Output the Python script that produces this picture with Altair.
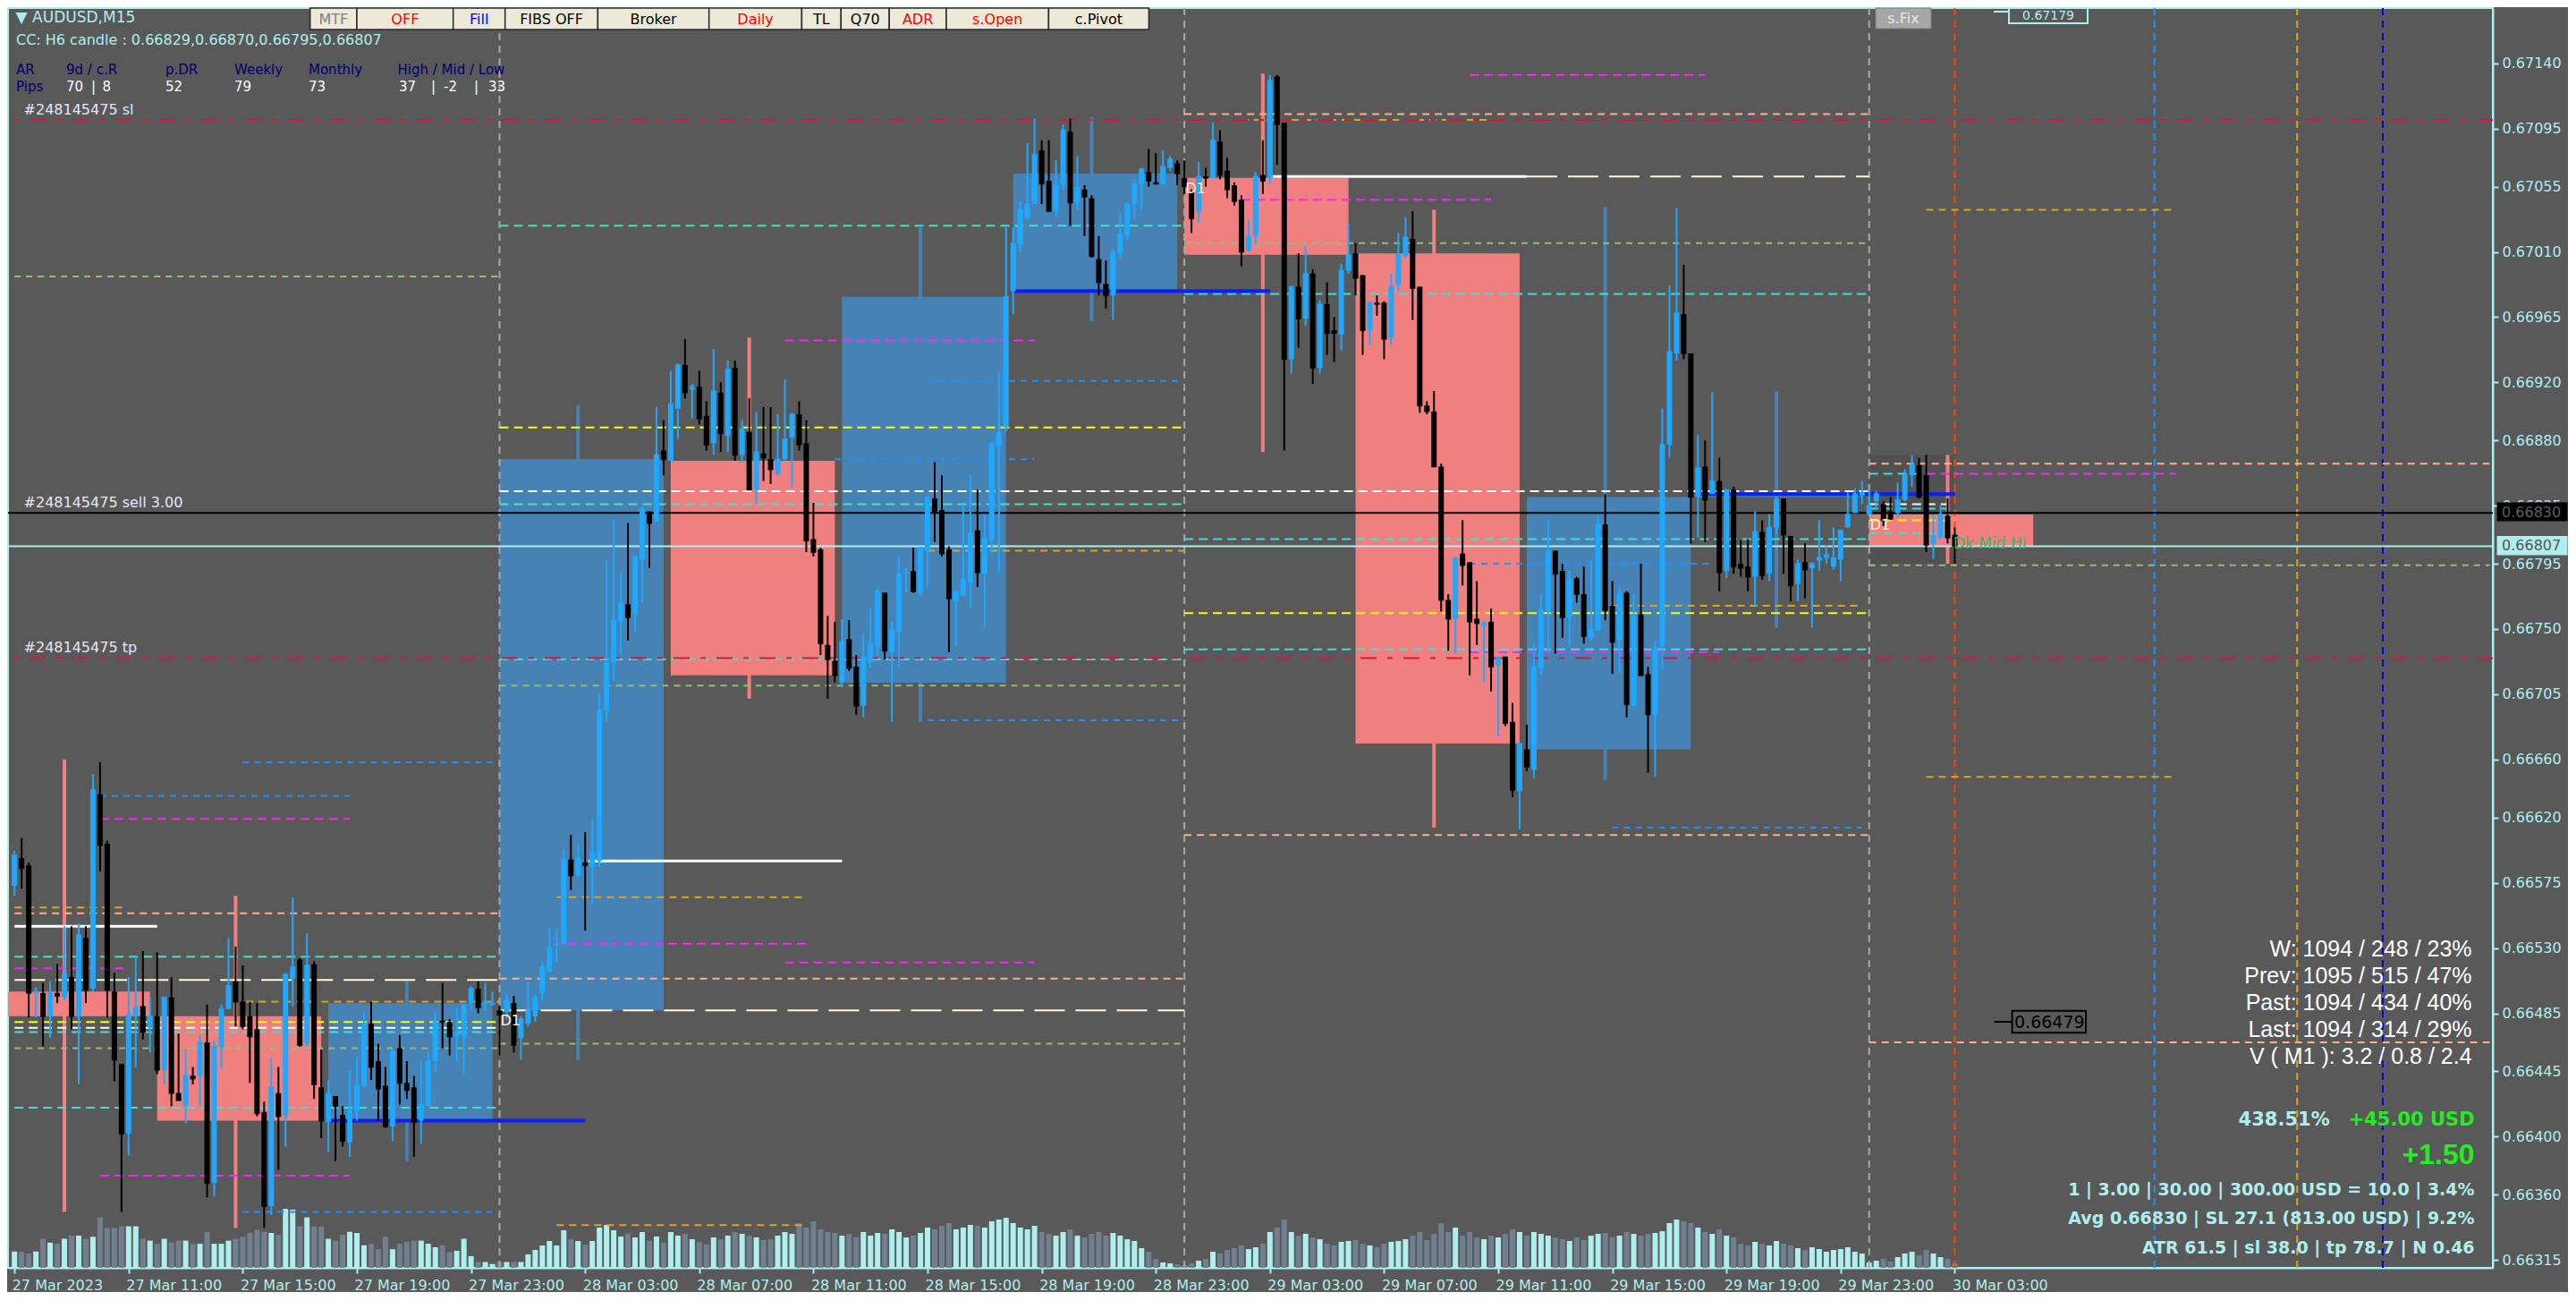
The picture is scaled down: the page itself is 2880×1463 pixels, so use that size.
import altair as alt
import pandas as pd
import numpy as np

# ---------------- data ----------------
time_labels = ["27 Mar 2023", "27 Mar 11:00", "27 Mar 15:00", "27 Mar 19:00", "27 Mar 23:00",
               "28 Mar 03:00", "28 Mar 07:00", "28 Mar 11:00", "28 Mar 15:00", "28 Mar 19:00",
               "28 Mar 23:00", "29 Mar 03:00", "29 Mar 07:00", "29 Mar 11:00", "29 Mar 15:00",
               "29 Mar 19:00", "29 Mar 23:00", "30 Mar 03:00"]
label_bars = [0, 16, 32, 48, 64, 80, 96, 112, 128, 144, 160, 176, 192, 208, 224, 240, 256, 272]

price_ticks = [0.67140, 0.67095, 0.67055, 0.67010, 0.66965, 0.66920, 0.66880, 0.66835, 0.66795,
               0.66750, 0.66705, 0.66660, 0.66620, 0.66575, 0.66530, 0.66485, 0.66445, 0.66400,
               0.66360, 0.66315]

bar_open = [
0.66573,0.66592,0.66587,0.66499,0.66499,0.66483,0.66499,0.66496,0.66510,0.66483,
0.66537,0.66502,0.66636,0.66602,0.66500,0.66450,0.66402,0.66483,0.66490,0.66475,
0.66483,0.66446,0.66496,0.66430,0.66421,0.66442,0.66442,0.66465,0.66368,0.66462,
0.66488,0.66507,0.66493,0.66483,0.66474,0.66417,0.66352,0.66430,0.66414,0.66509,
0.66522,0.66464,0.66519,0.66434,0.66410,0.66428,0.66415,0.66396,0.66418,0.66435,
0.66478,0.66452,0.66435,0.66407,0.66461,0.66437,0.66434,0.66411,0.66421,0.66452,
0.66480,0.66479,0.66469,0.66469,0.66492,0.66502,0.66491,0.66491,0.66487,0.66486,
0.66492,0.66468,0.66478,0.66483,0.66499,0.66514,0.66532,0.66533,0.66591,0.66580,
0.66589,0.66586,0.66590,0.66694,0.66727,0.66755,0.66767,0.66760,0.66798,0.66831,
0.66824,0.66873,0.66866,0.66902,0.66932,0.66915,0.66917,0.66897,0.66878,0.66913,
0.66883,0.66930,0.66870,0.66886,0.66846,0.66871,0.66867,0.66857,0.66867,0.66882,
0.66898,0.66878,0.66812,0.66805,0.66739,0.66728,0.66713,0.66743,0.66724,0.66697,
0.66727,0.66738,0.66775,0.66734,0.66748,0.66788,0.66790,0.66775,0.66804,0.66840,
0.66832,0.66805,0.66769,0.66773,0.66782,0.66818,0.66788,0.66811,0.66876,0.66889,
0.66983,0.67015,0.67033,0.67043,0.67080,0.67059,0.67038,0.67056,0.67093,0.67044,
0.67053,0.67047,0.67005,0.66988,0.66980,0.67009,0.67021,0.67043,0.67057,0.67065,
0.67058,0.67057,0.67068,0.67071,0.67061,0.67051,0.67038,0.67062,0.67061,0.67086,
0.67066,0.67056,0.67046,0.67011,0.67021,0.67063,0.67061,0.67131,0.67099,0.66936,
0.66986,0.66964,0.66995,0.66930,0.66974,0.66956,0.66953,0.66997,0.67009,0.66994,
0.66956,0.66975,0.66975,0.66951,0.66987,0.67007,0.67019,0.66986,0.66904,0.66900,
0.66862,0.66770,0.66757,0.66802,0.66796,0.66757,0.66752,0.66755,0.66725,0.66731,
0.66686,0.66638,0.66667,0.66653,0.66723,0.66762,0.66804,0.66790,0.66758,0.66785,
0.66774,0.66744,0.66749,0.66822,0.66766,0.66742,0.66775,0.66697,0.66760,0.66719,
0.66691,0.66738,0.66877,0.66940,0.66967,0.66940,0.66841,0.66862,0.66843,0.66852,
0.66790,0.66846,0.66795,0.66793,0.66786,0.66817,0.66788,0.66820,0.66840,0.66814,
0.66781,0.66796,0.66792,0.66797,0.66799,0.66793,0.66798,0.66820,0.66830,0.66842,
0.66829,0.66838,0.66836,0.66831,0.66830,0.66839,0.66856,0.66863,0.66856,0.66809,
0.66813,0.66828,0.66815]

bar_high = [
0.66597,0.66606,0.66589,0.66503,0.66506,0.66507,0.66519,0.66545,0.66545,0.66547,
0.66545,0.66650,0.66658,0.66604,0.66513,0.66450,0.66510,0.66525,0.66528,0.66496,
0.66527,0.66496,0.66510,0.66471,0.66460,0.66448,0.66470,0.66491,0.66466,0.66491,
0.66537,0.66531,0.66518,0.66493,0.66492,0.66424,0.66454,0.66448,0.66512,0.66565,
0.66523,0.66540,0.66521,0.66460,0.66439,0.66428,0.66421,0.66446,0.66455,0.66486,
0.66493,0.66464,0.66448,0.66459,0.66470,0.66452,0.66442,0.66452,0.66458,0.66486,
0.66506,0.66481,0.66489,0.66491,0.66504,0.66507,0.66506,0.66500,0.66490,0.66498,
0.66497,0.66483,0.66507,0.66498,0.66520,0.66544,0.66543,0.66598,0.66608,0.66602,
0.66610,0.66619,0.66705,0.66797,0.66826,0.66789,0.66823,0.66800,0.66834,0.66831,
0.66903,0.66894,0.66928,0.66933,0.66950,0.66919,0.66928,0.66907,0.66943,0.66920,
0.66935,0.66935,0.66894,0.66909,0.66900,0.66903,0.66903,0.66898,0.66922,0.66899,
0.66907,0.66894,0.66837,0.66806,0.66759,0.66755,0.66757,0.66756,0.66732,0.66747,
0.66764,0.66778,0.66775,0.66755,0.66800,0.66792,0.66806,0.66806,0.66841,0.66865,
0.66856,0.66807,0.66776,0.66836,0.66856,0.66846,0.66829,0.66879,0.66927,0.67027,
0.67027,0.67045,0.67085,0.67102,0.67087,0.67087,0.67073,0.67098,0.67102,0.67076,
0.67056,0.67049,0.67021,0.67004,0.67012,0.67037,0.67044,0.67060,0.67068,0.67081,
0.67078,0.67080,0.67076,0.67073,0.67073,0.67053,0.67072,0.67068,0.67099,0.67094,
0.67075,0.67058,0.67049,0.67032,0.67065,0.67087,0.67132,0.67132,0.67099,0.66986,
0.67009,0.67014,0.66998,0.66977,0.66989,0.66965,0.67002,0.67030,0.67016,0.66994,
0.66976,0.66980,0.66976,0.66995,0.67023,0.67034,0.67038,0.66986,0.66907,0.66914,
0.66864,0.66774,0.66799,0.66825,0.66796,0.66783,0.66756,0.66764,0.66731,0.66731,
0.66699,0.66671,0.66684,0.66740,0.66774,0.66825,0.66804,0.66795,0.66790,0.66786,
0.66793,0.66797,0.66828,0.66843,0.66783,0.66779,0.66776,0.66774,0.66795,0.66724,
0.66742,0.66902,0.66987,0.67040,0.67001,0.66940,0.66884,0.66880,0.66913,0.66868,
0.66846,0.66848,0.66811,0.66812,0.66831,0.66825,0.66829,0.66841,0.66840,0.66814,
0.66798,0.66809,0.66796,0.66825,0.66808,0.66820,0.66818,0.66844,0.66847,0.66852,
0.66846,0.66845,0.66838,0.66841,0.66851,0.66860,0.66870,0.66868,0.66870,0.66829,
0.66835,0.66840,0.66820]

bar_low = [
0.66566,0.66571,0.66482,0.66482,0.66462,0.66468,0.66492,0.66494,0.66474,0.66436,
0.66492,0.66500,0.66583,0.66482,0.66438,0.66348,0.66387,0.66448,0.66467,0.66458,
0.66443,0.66436,0.66421,0.66425,0.66409,0.66436,0.66421,0.66358,0.66359,0.66447,
0.66488,0.66476,0.66474,0.66437,0.66414,0.66337,0.66346,0.66377,0.66393,0.66490,
0.66462,0.66462,0.66426,0.66399,0.66389,0.66383,0.66393,0.66386,0.66411,0.66434,
0.66439,0.66411,0.66406,0.66397,0.66422,0.66426,0.66386,0.66395,0.66421,0.66444,
0.66461,0.66456,0.66452,0.66443,0.66487,0.66485,0.66487,0.66490,0.66456,0.66481,
0.66458,0.66453,0.66476,0.66479,0.66494,0.66513,0.66520,0.66532,0.66570,0.66579,
0.66542,0.66561,0.66586,0.66686,0.66714,0.66732,0.66742,0.66748,0.66768,0.66792,
0.66824,0.66856,0.66866,0.66881,0.66909,0.66895,0.66891,0.66873,0.66870,0.66872,
0.66872,0.66866,0.66865,0.66846,0.66836,0.66852,0.66850,0.66856,0.66866,0.66848,
0.66873,0.66803,0.66800,0.66732,0.66702,0.66713,0.66710,0.66721,0.66691,0.66689,
0.66723,0.66732,0.66729,0.66686,0.66723,0.66775,0.66775,0.66773,0.66779,0.66810,
0.66800,0.66734,0.66738,0.66773,0.66764,0.66779,0.66751,0.66802,0.66789,0.66886,
0.66967,0.67010,0.67033,0.67043,0.67043,0.67038,0.67034,0.67053,0.67028,0.67039,
0.67021,0.67006,0.66980,0.66971,0.66963,0.67005,0.67018,0.67032,0.67039,0.67055,
0.67057,0.67056,0.67066,0.67056,0.67050,0.67023,0.67030,0.67055,0.67061,0.67060,
0.67047,0.67042,0.67000,0.67010,0.67015,0.67050,0.67057,0.67070,0.66873,0.66926,
0.66944,0.66959,0.66919,0.66926,0.66939,0.66934,0.66942,0.66995,0.66980,0.66939,
0.66946,0.66966,0.66936,0.66946,0.66983,0.67006,0.66963,0.66899,0.66898,0.66862,
0.66762,0.66735,0.66733,0.66780,0.66718,0.66739,0.66713,0.66707,0.66676,0.66683,
0.66634,0.66612,0.66652,0.66647,0.66718,0.66734,0.66733,0.66744,0.66738,0.66768,
0.66740,0.66742,0.66749,0.66756,0.66719,0.66720,0.66689,0.66697,0.66718,0.66651,
0.66648,0.66722,0.66868,0.66935,0.66936,0.66809,0.66813,0.66810,0.66843,0.66776,
0.66785,0.66788,0.66786,0.66776,0.66766,0.66784,0.66783,0.66815,0.66788,0.66769,
0.66769,0.66771,0.66751,0.66790,0.66795,0.66791,0.66783,0.66820,0.66830,0.66836,
0.66829,0.66832,0.66821,0.66825,0.66827,0.66838,0.66848,0.66840,0.66803,0.66798,
0.66812,0.66809,0.66795]

bar_close = [
0.66594,0.66585,0.66499,0.66500,0.66483,0.66499,0.66497,0.66512,0.66483,0.66539,
0.66501,0.66639,0.66601,0.66501,0.66453,0.66402,0.66484,0.66489,0.66472,0.66483,
0.66446,0.66496,0.66430,0.66425,0.66442,0.66440,0.66465,0.66368,0.66462,0.66488,
0.66504,0.66493,0.66476,0.66469,0.66416,0.66352,0.66434,0.66414,0.66512,0.66517,
0.66463,0.66518,0.66436,0.66411,0.66430,0.66421,0.66397,0.66418,0.66435,0.66478,
0.66448,0.66433,0.66407,0.66459,0.66437,0.66432,0.66410,0.66422,0.66452,0.66479,
0.66479,0.66469,0.66471,0.66491,0.66502,0.66489,0.66493,0.66492,0.66484,0.66494,
0.66463,0.66481,0.66487,0.66496,0.66517,0.66530,0.66533,0.66591,0.66580,0.66592,
0.66587,0.66596,0.66694,0.66727,0.66756,0.66768,0.66758,0.66800,0.66833,0.66823,
0.66870,0.66867,0.66905,0.66932,0.66913,0.66917,0.66895,0.66877,0.66914,0.66885,
0.66929,0.66870,0.66888,0.66846,0.66872,0.66868,0.66860,0.66867,0.66881,0.66898,
0.66877,0.66811,0.66803,0.66740,0.66729,0.66718,0.66741,0.66723,0.66697,0.66731,
0.66740,0.66776,0.66735,0.66749,0.66788,0.66789,0.66776,0.66806,0.66841,0.66831,
0.66802,0.66771,0.66776,0.66784,0.66816,0.66789,0.66813,0.66878,0.66885,0.66979,
0.67016,0.67039,0.67043,0.67077,0.67057,0.67038,0.67056,0.67094,0.67044,0.67054,
0.67048,0.67007,0.66989,0.66980,0.67009,0.67022,0.67043,0.67057,0.67067,0.67059,
0.67057,0.67069,0.67074,0.67064,0.67055,0.67033,0.67062,0.67061,0.67087,0.67063,
0.67053,0.67045,0.67010,0.67021,0.67062,0.67059,0.67128,0.67098,0.66936,0.66986,
0.66964,0.66995,0.66930,0.66974,0.66954,0.66954,0.66997,0.67008,0.66992,0.66956,
0.66975,0.66974,0.66950,0.66986,0.67008,0.67020,0.66985,0.66904,0.66900,0.66862,
0.66770,0.66757,0.66799,0.66794,0.66755,0.66754,0.66754,0.66724,0.66730,0.66685,
0.66639,0.66671,0.66655,0.66724,0.66763,0.66804,0.66788,0.66758,0.66784,0.66774,
0.66745,0.66750,0.66822,0.66763,0.66741,0.66774,0.66698,0.66759,0.66718,0.66691,
0.66737,0.66877,0.66941,0.66968,0.66940,0.66841,0.66861,0.66839,0.66852,0.66789,
0.66846,0.66793,0.66792,0.66786,0.66817,0.66787,0.66820,0.66839,0.66815,0.66780,
0.66795,0.66791,0.66795,0.66799,0.66801,0.66799,0.66818,0.66829,0.66843,0.66844,
0.66835,0.66843,0.66825,0.66826,0.66839,0.66856,0.66863,0.66841,0.66808,0.66814,
0.66829,0.66813,0.66807]

tick_volume = [
182,182,160,182,325,282,269,325,360,360,
325,347,564,447,447,464,464,464,325,304,
269,325,282,304,304,269,269,403,269,269,
304,325,347,390,425,403,390,369,659,650,
464,564,464,464,325,304,369,403,390,252,
269,208,347,208,269,290,304,304,269,230,
252,173,190,325,130,65,65,43,65,65,
65,65,
150,200,250,300,250,420,320,300,260,300,450,480,420,350,380,340,400,300,350,280,
400,360,380,320,290,260,340,320,360,400,380,360,340,310,320,360,400,380,500,450,520,430,400,390,
360,380,340,400,360,390,380,430,400,340,360,390,450,430,470,500,430,450,480,470,450,520,540,560,
500,450,430,470,400,380,360,400,430,360,340,380,400,360,390,360,320,300,220,180,100,60,50,40,
30,50,80,100,180,160,200,220,250,210,230,270,400,450,540,400,360,380,340,320,270,250,290,300,
310,270,250,230,270,290,300,320,360,400,310,380,500,400,450,360,400,340,320,360,340,380,430,400,
360,400,380,360,340,320,300,340,310,360,380,390,340,360,400,380,360,380,390,410,500,540,520,500,
450,400,380,430,360,340,270,250,290,270,250,300,270,250,220,200,230,210,180,200,210,230,180,160,
60,80,100,70,120,160,180,140,200,160,120,100,50]

# H6 candles (drawn as background boxes)
h6_start = [-4, 20, 44, 68, 92, 116, 140, 164, 188, 212, 236, 260]
h6_open = [0.66500, 0.66483, 0.66410, 0.66487, 0.66866, 0.66713, 0.66983, 0.67061, 0.67009, 0.66667, 0.66841, 0.66829]
h6_high = [0.66660, 0.66566, 0.66507, 0.66904, 0.66951, 0.67027, 0.67103, 0.67133, 0.67039, 0.67041, 0.66914, 0.66870]
h6_low = [0.66348, 0.66337, 0.66383, 0.66453, 0.66702, 0.66686, 0.66962, 0.66872, 0.66613, 0.66646, 0.66751, 0.66795]
h6_close = [0.66483, 0.66411, 0.66492, 0.66867, 0.66718, 0.66979, 0.67064, 0.67008, 0.66671, 0.66841, 0.66844, 0.66807]

# dashed level lines: price, from bar, to bar, kind
lvl_price = [0.66993, 0.66558, 0.66554, 0.66524, 0.66516, 0.66508, 0.66493, 0.66479, 0.66475, 0.66472,
             0.66461, 0.66420, 0.66658, 0.66635, 0.66619, 0.66373, 0.66348,
             0.67028, 0.66949, 0.66921, 0.66889, 0.66867, 0.66845, 0.66836, 0.66804, 0.66729, 0.66711,
             0.66687, 0.66565, 0.66533, 0.66520, 0.66509, 0.66487, 0.66464, 0.66339,
             0.67132, 0.67105, 0.67101, 0.67062, 0.67046, 0.67016, 0.66981, 0.66812, 0.66795, 0.66766,
             0.66761, 0.66736, 0.66734, 0.66613, 0.66608,
             0.67039, 0.66864, 0.66857, 0.66794, 0.66648, 0.66465, 0.66836, 0.66833, 0.66825, 0.66816, 0.66857]
lvl_from = [0, 0, 0, 0, 0, 0, 32.5, 0, 0, 0,
            0, 0, 32, 12, 12, 12, 32,
            68, 108, 128, 68, 115, 68, 68, 128, 68, 68,
            128, 76, 75.6, 108, 68, 68, 68, 76,
            204, 164, 172, 212, 172, 164, 164, 164, 204, 224,
            164, 164, 204, 224, 164,
            268, 260, 268, 260, 268, 260, 260, 260, 260, 260, 260]
lvl_to = [68, 15.7, 68, 68, 15.7, 68, 68, 68, 68, 68,
          68, 68, 67, 47, 47, 47, 67,
          164, 143, 164, 164, 143, 260, 164, 164, 164, 164,
          164, 111, 111, 143, 164, 164, 164, 111,
          237, 260, 208, 260, 207, 260, 260, 260, 238, 259,
          260, 260, 239, 259, 260,
          303, 347, 303, 347, 303, 347, 271, 271, 272, 271, 268]
lvl_kind = ["lgreen", "gold", "peach", "turq", "magenta", "cream", "gold", "yellow", "white", "turq",
            "lgreen", "turq", "dblue", "dblue", "magenta", "magenta", "dblue",
            "turq", "magenta", "dblue", "yellow", "dblue", "white", "turq", "gold", "turq", "lgreen",
            "dblue", "gold", "magenta", "magenta", "peach", "cream", "lgreen", "gold",
            "magenta", "peach", "gold", "cream", "magenta", "lgreen", "turq", "turq", "dblue", "gold",
            "yellow", "turq", "magenta", "dblue", "peach",
            "gold", "peach", "magenta", "lgreen", "gold", "peach", "white", "turq", "yellow", "turq", "turq"]

# solid thick segments
seg_price = [0.66411, 0.66983, 0.66843, 0.66545, 0.66590, 0.67062]
seg_from = [44, 140, 236, 0, 80.5, 176]
seg_to = [80, 176, 272, 20, 116, 212]
seg_kind = ["blue", "blue", "blue", "white", "white", "white"]

day_start = [68, 164, 260]
day_open = [0.66487, 0.67061, 0.66829]

sl_price, tp_price, entry_price, bid_price = 0.67101, 0.66730, 0.66830, 0.66807
now_bar = 272
marker_bars = [300, 320, 332]

# ---------------- styling ----------------
BG = "#595959"
AX = "#AFEEEE"
BULL = "#1EA8FF"
BEAR = "#000000"
W, H = 2778, 1408
X_DOM = [-0.275, 346.8]
Y_DOM = [0.6630951, 0.6717812]

xs = alt.Scale(domain=X_DOM, nice=False, zero=False)
ys = alt.Scale(domain=Y_DOM, nice=False, zero=False)

lab_js = "[" + ",".join("'" + t + "'" for t in time_labels) + "][round(datum.value / 16)]"
XAX = alt.Axis(values=label_bars, labelExpr=lab_js, labelAlign="left", labelBaseline="top",
               labelPadding=5, labelOffset=-3, tickSize=6, tickWidth=2, tickColor=AX, domainColor=AX,
               domainWidth=2, labelColor=AX, labelFont="DejaVu Sans", labelFontSize=16, grid=False,
               title=None, labelOverlap=False, labelFlush=False, labelBound=False)
YAX = alt.Axis(orient="right", values=price_ticks, format=".5f", labelPadding=4, tickSize=6,
               tickWidth=2, tickColor=AX, domainColor=AX, domainWidth=2, labelColor=AX,
               labelFont="DejaVu Sans", labelFontSize=16, grid=False, title=None,
               labelOverlap=False, labelFlush=False, labelBound=False, labelBaseline="middle")


def X(f):
    return alt.X(f + ":Q", scale=xs, axis=XAX)


def Y(f):
    return alt.Y(f + ":Q", scale=ys, axis=YAX)


n = len(bar_open)
cdf = pd.DataFrame({"bar": list(range(n)), "o": bar_open, "h": bar_high, "l": bar_low,
                    "c": bar_close, "v": tick_volume})
up = cdf["c"] > cdf["o"]
cdf["col"] = np.where(up, BULL, BEAR)
cdf["vcol"] = np.where(up, "#AFEEEE", "#708090")

h6 = pd.DataFrame({"s": h6_start, "o": h6_open, "h": h6_high, "l": h6_low, "c": h6_close})
h6["e"] = h6["s"] + 23
h6["m"] = h6["s"] + 11
h6["col"] = np.where(h6["c"] >= h6["o"], "#4682B4", "#F08080")

cur = pd.DataFrame({"s": [h6_start[-1]], "e": [now_bar], "h": [h6_high[-1]], "l": [h6_low[-1]]})

lv = pd.DataFrame({"p": lvl_price, "a": lvl_from, "b": lvl_to, "k": lvl_kind})
kind_style = {
    "peach": ("#FFAF8A", [8, 6]), "magenta": ("#FF22FF", [10, 6]), "turq": ("#40E0D0", [10, 6]),
    "lgreen": ("#90C070", [7, 6]), "white": ("#FFFFFF", [10, 6]), "cream": ("#FFF8DC", [34, 12]),
    "yellow": ("#FFFF00", [10, 6]), "gold": ("#DAA520", [8, 6]), "dblue": ("#1E90FF", [7, 6]),
}
sg = pd.DataFrame({"p": seg_price, "a": seg_from, "b": seg_to, "k": seg_kind})

dummy = pd.DataFrame({"k": [0]})


def ptext(x, y, s, color, size, font="DejaVu Sans", weight="normal", align="left", baseline="alphabetic"):
    return alt.Chart(dummy).mark_text(align=align, baseline=baseline, font=font, fontSize=size,
                                      fontWeight=weight, color=color).encode(
        x=alt.value(x), y=alt.value(y), text=alt.value(s))


def prect(x0, x1, y0, y1, fill, stroke="#000000", sw=0, fop=1.0):
    return alt.Chart(dummy).mark_rect(fill=fill, fillOpacity=fop, stroke=stroke, strokeWidth=sw).encode(
        x=alt.value(x0), x2=alt.value(x1), y=alt.value(y0), y2=alt.value(y1))


layers = []
# current H6 range shade
layers.append(alt.Chart(cur).mark_rect(fill="#4C4C4C", opacity=0.6, clip=True).encode(
    x=X("s"), x2="e:Q", y=Y("h"), y2="l:Q"))
# H6 boxes and wicks
layers.append(alt.Chart(h6).mark_rect(clip=True).encode(
    x=X("s"), x2="e:Q", y=Y("o"), y2="c:Q", color=alt.Color("col:N", scale=None)))
layers.append(alt.Chart(h6).mark_rule(strokeWidth=4, clip=True).encode(
    x=X("m"), y=Y("h"), y2="l:Q", color=alt.Color("col:N", scale=None)))

# vertical lines
vdf = pd.DataFrame({"bar": day_start})
layers.append(alt.Chart(vdf).mark_rule(color="#A8A8A8", strokeWidth=2, strokeDash=[8, 6]).encode(x=X("bar")))
mcols = ["#1E90FF", "#DAA520", "#0000FF"]
for b, colr in zip(marker_bars, mcols):
    layers.append(alt.Chart(pd.DataFrame({"bar": [b]})).mark_rule(
        color=colr, strokeWidth=2, strokeDash=[8, 6]).encode(x=X("bar")))
layers.append(alt.Chart(pd.DataFrame({"bar": [now_bar]})).mark_rule(
    color="#FF4500", strokeWidth=2, strokeDash=[8, 6]).encode(x=X("bar")))

# dashed levels
for k, (colr, dash) in kind_style.items():
    sub = lv[lv["k"] == k]
    if len(sub):
        layers.append(alt.Chart(sub).mark_rule(color=colr, strokeWidth=2, strokeDash=dash, clip=True).encode(
            x=X("a"), x2="b:Q", y=Y("p")))
# solid thick segments
layers.append(alt.Chart(sg[sg["k"] == "blue"]).mark_rule(color="#0A1EFF", strokeWidth=4).encode(
    x=X("a"), x2="b:Q", y=Y("p")))
layers.append(alt.Chart(sg[sg["k"] == "white"]).mark_rule(color="#FFFFFF", strokeWidth=3).encode(
    x=X("a"), x2="b:Q", y=Y("p")))

# trade lines (full width)
tl = pd.DataFrame({"p": [sl_price, tp_price]})
layers.append(alt.Chart(tl).mark_rule(color="#DC143C", strokeWidth=2, strokeDash=[18, 12, 6, 12]).encode(y=Y("p")))
layers.append(alt.Chart(pd.DataFrame({"p": [entry_price]})).mark_rule(color="#000000", strokeWidth=2).encode(y=Y("p")))
layers.append(alt.Chart(pd.DataFrame({"p": [bid_price]})).mark_rule(color=AX, strokeWidth=2).encode(y=Y("p")))

# candles
layers.append(alt.Chart(cdf).mark_rule(strokeWidth=2).encode(
    x=X("bar"), y=Y("h"), y2="l:Q", color=alt.Color("col:N", scale=None)))
layers.append(alt.Chart(cdf).mark_bar(size=6).encode(
    x=X("bar"), y=Y("o"), y2="c:Q", color=alt.Color("col:N", scale=None)))
layers.append(alt.Chart(cdf).mark_tick(orient="horizontal", size=6, thickness=2).encode(
    x=X("bar"), y=Y("c"), color=alt.Color("col:N", scale=None)))

# D1 labels
ddf = pd.DataFrame({"bar": day_start, "p": day_open, "t": ["D1"] * len(day_start)})
layers.append(alt.Chart(ddf).mark_text(align="left", baseline="top", dy=4, dx=1, font="DejaVu Sans",
                                       fontSize=16, color="#FFF8DC").encode(x=X("bar"), y=Y("p"), text="t:N"))
# order labels
odf = pd.DataFrame({"bar": [1.3, 1.3, 1.3], "p": [sl_price, entry_price, tp_price],
                    "t": ["#248145475 sl", "#248145475 sell 3.00", "#248145475 tp"]})
layers.append(alt.Chart(odf).mark_text(align="left", baseline="alphabetic", dy=-6, font="DejaVu Sans",
                                       fontSize=16, color="#E6E6FA").encode(x=X("bar"), y=Y("p"), text="t:N"))

# ---- top-left info ----
layers.append(ptext(8.6, 16, "▼ AUDUSD,M15", AX, 17))
layers.append(ptext(9, 41.3, "CC: H6 candle : 0.66829,0.66870,0.66795,0.66807", AX, 16))
NAVY = "#00006E"
for xx, s in [(9, "AR"), (65, "9d / c.R"), (176, "p.DR"), (253, "Weekly"), (336, "Monthly"), (435.5, "High / Mid / Low")]:
    layers.append(ptext(xx, 73.7, s, NAVY, 15))
layers.append(ptext(9, 92.7, "Pips", NAVY, 15))
for xx, s in [(65, "70"), (93, "|"), (105.6, "8"), (176, "52"), (253, "79"), (336, "73"),
              (437, "37"), (473, "|"), (487, "-2"), (521, "|"), (537, "33")]:
    layers.append(ptext(xx, 92.7, s, "#FFFFFF", 15))

# buttons
btn_labels = ["MTF", "OFF", "Fill", "FIBS OFF", "Broker", "Daily", "TL", "Q70", "ADR", "s.Open", "c.Pivot"]
btn_edges = [337.7, 390, 497.7, 555.7, 659.4, 783.7, 887.4, 931.3, 985.2, 1049, 1163.4, 1275.4]
btn_colors = ["#808080", "#FF0000", "#0000FF", "#000000", "#000000", "#FF0000", "#000000", "#000000",
              "#FF0000", "#FF0000", "#000000"]
for i, lab in enumerate(btn_labels):
    x0, x1 = btn_edges[i], btn_edges[i + 1]
    layers.append(prect(x0, x1, 0, 24, "#ECE9D8", "#2A2A2A", 1.5))
    layers.append(ptext((x0 + x1) / 2, 12.5, lab, btn_colors[i], 16, align="center", baseline="middle"))
layers.append(prect(2088, 2150, 0, 23, "#A6A6A6", "#7A7A7A", 1))
layers.append(ptext(2119, 12, "s.Fix", "#E8E8E8", 16, align="center", baseline="middle"))

# top price tag
layers.append(alt.Chart(dummy).mark_rule(color=AX, strokeWidth=2).encode(
    x=alt.value(2220), x2=alt.value(2237), y=alt.value(4)))
layers.append(prect(2237, 2325, 0, 17, "#595959", AX, 2))
layers.append(ptext(2281, 9, "0.67179", AX, 14, align="center", baseline="middle"))

# price tag 0.66479
layers.append(alt.Chart(dummy).mark_rule(color="#000000", strokeWidth=2).encode(
    x=alt.value(2220.7), x2=alt.value(2240.6), y=alt.value(1133)))
layers.append(prect(2240.6, 2323, 1120.7, 1145.3, "#595959", "#000000", 2, 0))
layers.append(ptext(2243, 1133.5, "0.66479", "#000000", 19, baseline="middle"))

layers.append(ptext(2175, 604, "Dk Mid Hi", "#3CB371", 17))

# right-axis tags
layers.append(prect(2782.6, 2861.5, 552.6, 573.4, "#000000"))
layers.append(ptext(2788, 563.5, "0.66830", "#5E5E5E", 16, baseline="middle"))
layers.append(prect(2782.6, 2861.5, 590, 611.6, AX))
layers.append(ptext(2788, 601, "0.66807", "#555555", 16, baseline="middle"))

# stats block
for yy, s in [(1060.3, "W: 1094 / 248 / 23%"), (1090.3, "Prev: 1095 / 515 / 47%"),
              (1120.3, "Past: 1094 / 434 / 40%"), (1150.3, "Last: 1094 / 314 / 29%"),
              (1180.3, "V ( M1 ): 3.2 / 0.8 / 2.4")]:
    layers.append(ptext(2754.6, yy, s, "#FFFFFF", 25, font="Liberation Sans", align="right"))
GREEN = "#22EE22"
layers.append(ptext(2595.7, 1249.3, "438.51%", AX, 21, weight="bold", align="right"))
layers.append(ptext(2757.6, 1249.3, "+45.00 USD", GREEN, 21, weight="bold", align="right"))
layers.append(ptext(2757.6, 1292, "+1.50", GREEN, 32, font="Liberation Sans", weight="bold", align="right"))
layers.append(ptext(2757.6, 1327, "1  |  3.00  |  30.00  |  300.00 USD = 10.0  |  3.4%", AX, 19,
                    weight="bold", align="right"))
layers.append(ptext(2757.6, 1359.3, "Avg 0.66830  |  SL 27.1 (813.00 USD)  |  9.2%", AX, 19,
                    weight="bold", align="right"))
layers.append(ptext(2757.6, 1392, "ATR 61.5  |  sl 38.0  |  tp 78.7  |  N 0.46", AX, 19,
                    weight="bold", align="right"))

price_layer = alt.layer(*layers)

vol = alt.Chart(cdf).mark_bar(size=6).encode(
    x=X("bar"),
    y=alt.Y("v:Q", scale=alt.Scale(domain=[0, 14080], nice=False, zero=True), axis=None),
    color=alt.Color("vcol:N", scale=None))

chart = alt.layer(vol, price_layer).resolve_scale(y="independent").properties(
    width=W, height=H, padding=0
).configure(background=BG).configure_view(stroke=AX, strokeWidth=2)

chart.save("out.html", embed_options={"renderer": "svg", "actions": False})
